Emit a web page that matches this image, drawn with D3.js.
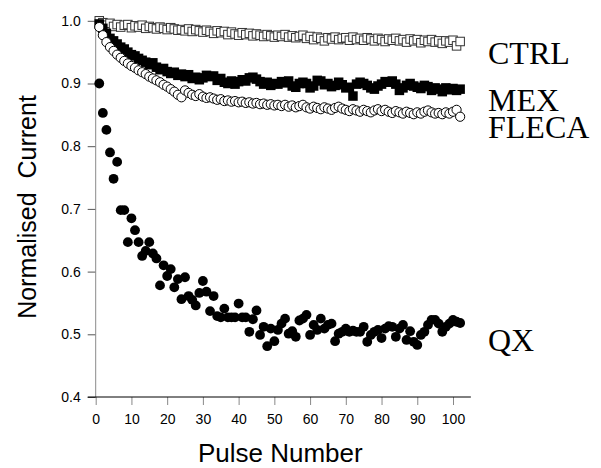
<!DOCTYPE html>
<html><head><meta charset="utf-8">
<script src="https://cdn.jsdelivr.net/npm/d3@7/dist/d3.min.js"></script>
<style>body{margin:0;background:#fff}svg{display:block}</style>
</head><body><svg id="c" width="601" height="468"></svg>
<script>
const ctrlValues = [1.000,0.997,0.993,0.996,0.991,0.994,0.990,0.993,0.994,0.989,0.992,0.990,0.993,0.988,0.991,0.989,0.987,0.990,0.988,0.986,0.989,0.987,0.985,0.986,0.984,0.987,0.983,0.986,0.984,0.982,0.985,0.983,0.980,0.984,0.981,0.983,0.978,0.982,0.979,0.977,0.981,0.978,0.980,0.976,0.979,0.977,0.975,0.978,0.976,0.974,0.977,0.975,0.978,0.974,0.976,0.973,0.975,0.977,0.972,0.975,0.970,0.974,0.972,0.968,0.973,0.971,0.974,0.970,0.972,0.973,0.969,0.974,0.970,0.972,0.969,0.973,0.971,0.968,0.972,0.970,0.967,0.971,0.969,0.972,0.968,0.970,0.966,0.971,0.968,0.970,0.965,0.969,0.967,0.970,0.966,0.968,0.964,0.968,0.966,0.969,0.960,0.967];
const mexValues = [0.995,0.988,0.980,0.972,0.968,0.963,0.958,0.955,0.950,0.946,0.944,0.940,0.937,0.934,0.930,0.933,0.926,0.922,0.924,0.919,0.916,0.918,0.913,0.915,0.911,0.914,0.908,0.910,0.906,0.909,0.913,0.911,0.912,0.905,0.908,0.902,0.900,0.904,0.899,0.903,0.906,0.904,0.909,0.910,0.907,0.903,0.899,0.902,0.897,0.900,0.899,0.903,0.901,0.904,0.896,0.894,0.900,0.902,0.900,0.893,0.896,0.905,0.904,0.898,0.900,0.895,0.897,0.902,0.898,0.893,0.894,0.880,0.899,0.902,0.900,0.897,0.893,0.891,0.896,0.899,0.903,0.902,0.904,0.899,0.889,0.893,0.897,0.900,0.896,0.894,0.892,0.897,0.895,0.889,0.893,0.891,0.887,0.893,0.890,0.892,0.889,0.891];
const flecaValues = [0.990,0.977,0.966,0.958,0.952,0.946,0.941,0.936,0.932,0.928,0.925,0.921,0.918,0.915,0.911,0.908,0.905,0.902,0.898,0.895,0.891,0.887,0.882,0.878,0.889,0.885,0.882,0.880,0.883,0.879,0.877,0.878,0.876,0.874,0.875,0.872,0.873,0.871,0.872,0.870,0.871,0.869,0.870,0.868,0.869,0.867,0.868,0.866,0.867,0.865,0.866,0.864,0.866,0.863,0.865,0.862,0.864,0.866,0.862,0.860,0.863,0.861,0.859,0.862,0.860,0.858,0.861,0.863,0.860,0.858,0.856,0.859,0.857,0.855,0.858,0.856,0.854,0.857,0.859,0.856,0.858,0.855,0.853,0.856,0.854,0.852,0.855,0.853,0.851,0.854,0.852,0.855,0.857,0.854,0.852,0.853,0.851,0.854,0.852,0.855,0.858,0.847];
const qxValues = [0.900,0.853,0.826,0.790,0.748,0.775,0.698,0.698,0.647,0.685,0.666,0.647,0.625,0.633,0.647,0.629,0.621,0.578,0.610,0.593,0.604,0.575,0.588,0.556,0.591,0.561,0.555,0.546,0.566,0.585,0.568,0.537,0.561,0.529,0.527,0.541,0.527,0.527,0.527,0.549,0.527,0.527,0.504,0.524,0.538,0.499,0.512,0.481,0.509,0.489,0.507,0.517,0.525,0.501,0.505,0.496,0.522,0.525,0.531,0.499,0.515,0.507,0.525,0.509,0.515,0.517,0.489,0.501,0.504,0.509,0.504,0.506,0.504,0.504,0.512,0.488,0.499,0.504,0.507,0.494,0.509,0.513,0.512,0.496,0.509,0.515,0.491,0.505,0.488,0.483,0.499,0.504,0.515,0.523,0.523,0.517,0.504,0.512,0.517,0.523,0.520,0.518];
const xTicks = [0,10,20,30,40,50,60,70,80,90,100];
const yTicks = [0.4,0.5,0.6,0.7,0.8,0.9,1.0];
const seriesLabels = ["CTRL","MEX","FLECA","QX"];

const svg = d3.select("#c");
const x = d3.scaleLinear().domain([0,100]).range([95.7,453]);
const y = d3.scaleLinear().domain([0.4,1.0]).range([397,20.8]);
const toPts = vals => vals.map((v,i)=>({p:i+1,v:v}));

// y axis
const yAx = svg.append("g").attr("transform",`translate(${x(0)},0)`)
  .call(d3.axisLeft(y).tickValues(yTicks).tickFormat(d3.format(".1f")).tickSize(8).tickPadding(7));
yAx.select(".domain").remove();
yAx.append("line").attr("x1",0).attr("x2",0).attr("y1",y(0.4)).attr("y2",y(1.0)).attr("stroke","#8a8a8a");
yAx.selectAll(".tick line").attr("stroke","#555");
yAx.selectAll(".tick text").attr("font-family","'Liberation Sans',Arial,sans-serif").attr("font-size",14).attr("fill","#000");

// x axis
const xAx = svg.append("g").attr("transform",`translate(0,${y(0.4)})`)
  .call(d3.axisBottom(x).tickValues(xTicks).tickSize(8).tickPadding(9));
xAx.select(".domain").remove();
xAx.append("line").attr("x1",x(0)-8).attr("x2",x(105)).attr("y1",0).attr("y2",0).attr("stroke","#000");
xAx.selectAll(".tick line").attr("stroke","#888");
xAx.selectAll(".tick text").attr("font-family","'Liberation Sans',Arial,sans-serif").attr("font-size",14).attr("fill","#000");

const plot = svg.append("g");
// CTRL open squares
const sq = 8.5;
plot.append("g").selectAll("rect").data(toPts(ctrlValues)).join("rect")
  .attr("x",d=>x(d.p)-sq/2).attr("y",d=>y(d.v)-sq/2).attr("width",sq).attr("height",sq)
  .attr("fill","#fff").attr("stroke","#333").attr("stroke-width",1);
// MEX filled squares
const fsq = 9.5;
plot.append("g").selectAll("rect").data(toPts(mexValues)).join("rect")
  .attr("x",d=>x(d.p)-fsq/2).attr("y",d=>y(d.v)-fsq/2).attr("width",fsq).attr("height",fsq)
  .attr("fill","#000");
// FLECA open circles
plot.append("g").selectAll("circle").data(toPts(flecaValues)).join("circle")
  .attr("cx",d=>x(d.p)).attr("cy",d=>y(d.v)).attr("r",4.6)
  .attr("fill","#fff").attr("stroke","#000").attr("stroke-width",1);
// QX filled circles
plot.append("g").selectAll("circle").data(toPts(qxValues)).join("circle")
  .attr("cx",d=>x(d.p)).attr("cy",d=>y(d.v)).attr("r",4.9).attr("fill","#000");

// series labels (MEX and FLECA share one two-line text block, as in the reference)
const labelFont = "'Liberation Serif','Times New Roman',serif";
const lab = svg.append("g").attr("font-family",labelFont).attr("font-size",32).attr("fill","#000");
lab.append("text").attr("x",488).attr("y",64).text(seriesLabels[0]);
const stacked = lab.append("text").attr("x",488).attr("y",111);
stacked.append("tspan").attr("x",488).attr("y",111).text(seriesLabels[1]);
stacked.append("tspan").attr("x",488).attr("y",138).text(seriesLabels[2]);
lab.append("text").attr("x",488).attr("y",351).text(seriesLabels[3]);

// axis titles
svg.append("text").attr("x",(x(0)+x(105))/2-3).attr("y",462).attr("text-anchor","middle")
  .attr("font-family","'Liberation Sans',Arial,sans-serif").attr("font-size",26).text("Pulse Number");
svg.append("text").attr("transform","translate(36,207) rotate(-90)").attr("text-anchor","middle")
  .attr("font-family","'Liberation Sans',Arial,sans-serif").attr("font-size",25)
  .style("white-space","pre").text("Normalised  Current");
</script></body></html>
